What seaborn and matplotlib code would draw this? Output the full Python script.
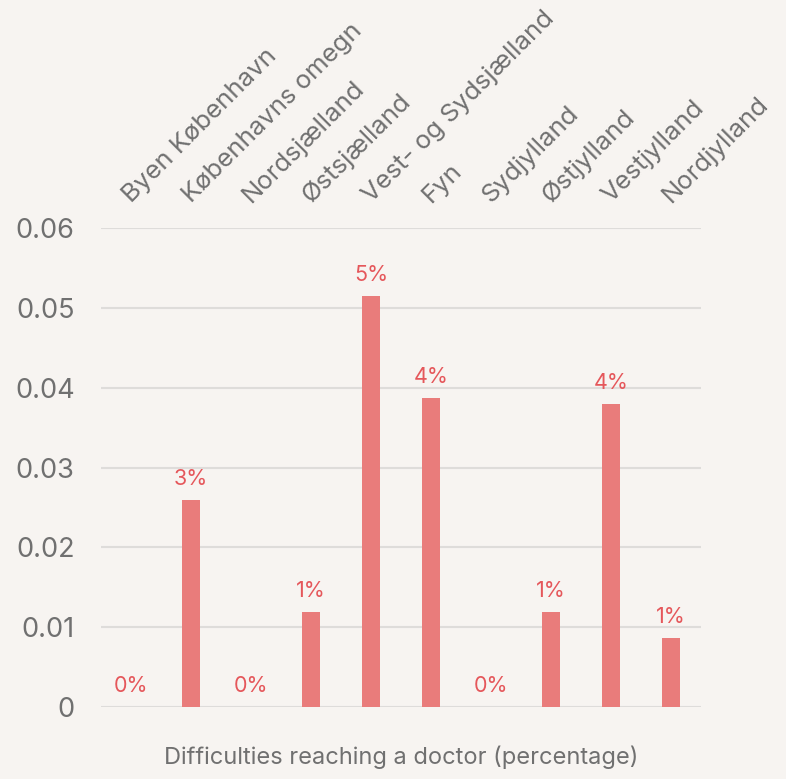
import matplotlib
matplotlib.use("Agg")
import matplotlib.pyplot as plt
import seaborn as sns
import pandas as pd

regions = ["Byen København", "Københavns omegn", "Nordsjælland", "Østsjælland",
           "Vest- og Sydsjælland", "Fyn", "Sydjylland", "Østjylland", "Vestjylland", "Nordjylland"]
values = [0.0, 0.0259, 0.0, 0.0119, 0.0515, 0.0387, 0.0, 0.0119, 0.038, 0.0086]
yticks = [0, 0.01, 0.02, 0.03, 0.04, 0.05, 0.06]
ytick_labels = ["0", "0.01", "0.02", "0.03", "0.04", "0.05", "0.06"]

bg = "#f7f4f1"
sns.set_theme(style="white")
plt.rcParams['font.family'] = ['Inter', 'DejaVu Sans']

df = pd.DataFrame({"region": regions, "value": values})

fig = plt.figure(figsize=(7.86, 7.79), dpi=100, facecolor=bg)
ax = fig.add_axes([101/786, 72/779, 600/786, (707-228)/779])
ax.set_facecolor(bg)

sns.barplot(data=df, x="region", y="value", color="#e97c7b", width=0.3,
            saturation=1, linewidth=0, ax=ax, zorder=3)

ax.set_ylim(0, 0.06)
ax.set_yticks(yticks)
ax.set_yticklabels(ytick_labels, fontsize=19.5, color="#707070")
ax.set_ylabel("")
ax.yaxis.grid(True, color="#dedcda", linewidth=1.5, zorder=0)
ax.xaxis.grid(False)
for s in ax.spines.values():
    s.set_visible(False)
ax.tick_params(axis="y", length=0, pad=19)

ax.xaxis.tick_top()
ax.tick_params(axis="x", length=0, pad=18)
ax.set_xticks(range(len(regions)))
ax.set_xticklabels(regions, rotation=45, ha="left", va="baseline",
                   rotation_mode="anchor", fontsize=18.5, color="#707070")
ax.set_xlabel("Difficulties reaching a doctor (percentage)", fontsize=17,
              color="#707070", labelpad=28)
ax.xaxis.set_label_position("bottom")

for i, v in enumerate(values):
    ax.annotate(f"{v*100:.0f}%", (i, v), xytext=(0, 8), textcoords="offset points",
                ha="center", va="bottom", fontsize=15.5, color="#e5575b")

fig.savefig("out.png", dpi=100, facecolor=bg)
